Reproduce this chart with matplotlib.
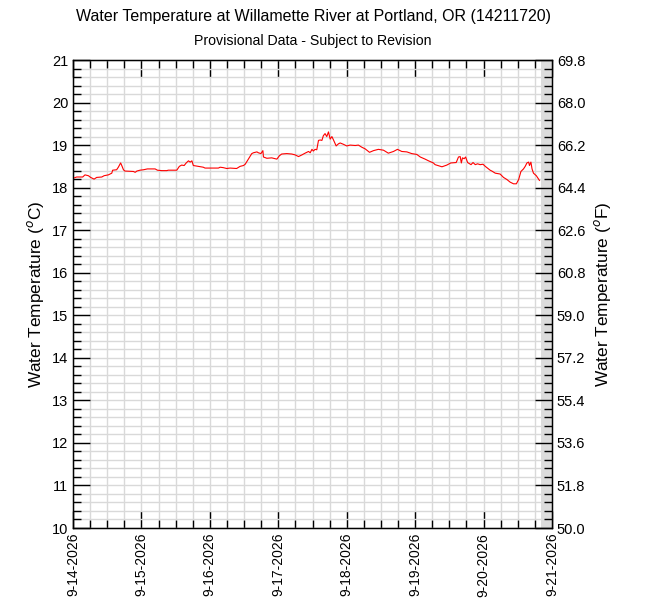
import datetime as dt
import numpy as np
import matplotlib
matplotlib.use("Agg")
import matplotlib.pyplot as plt
import matplotlib.dates as mdates
from matplotlib.ticker import MultipleLocator, FixedLocator, FormatStrFormatter

plt.rcParams['font.family'] = ['Liberation Sans', 'DejaVu Sans']

title = "Water Temperature at Willamette River at Portland, OR (14211720)"
subtitle = "Provisional Data - Subject to Revision"
start = dt.datetime(2026, 9, 14)
end = dt.datetime(2026, 9, 21)

# hours since 9-14-2026 00:00
hours = [0, 1.3, 3.4, 4.2, 5.4, 6.2, 7.4, 8.3, 10.1, 10.9, 12.4, 13.6, 13.9, 15.3,
         15.9, 16.7, 17.1, 17.7, 18.2, 21.2, 21.8, 22.4, 23.5, 24.7, 26.1, 28.8,
         29.6, 31.1, 32.9, 33.4, 36.4, 37.3, 38.1, 39.0, 39.7, 40.5, 41.1, 41.7,
         42.2, 44.0, 45.7, 46.3, 51.0, 51.6, 52.7, 53.9, 55.1, 57.4, 58.6, 59.8,
         60.4, 61.5, 62.7, 63.3, 64.5, 65.0, 65.9, 66.6, 66.8, 68.0, 69.7, 71.5,
         72.4, 73.2, 75.0, 76.7, 77.9, 79.1, 80.3, 81.4, 82.6, 83.2, 83.8, 84.3,
         84.9, 85.5, 86.1, 86.7, 87.3, 87.8, 88.4, 89.0, 89.6, 90.2, 90.8, 91.3,
         92.3, 93.1, 93.7, 94.8, 96.0, 97.2, 99.0, 100.1, 101.3, 102.5, 104.0,
         105.4, 107.1, 108.9, 110.6, 112.4, 113.8, 115.3, 117.1, 118.8, 120.6,
         121.8, 123.5, 124.7, 126.4, 127.0, 129.4, 131.1, 132.5, 134.4, 135.2,
         135.8, 136.2, 136.6, 137.2, 137.7, 138.4, 139.6, 140.3, 141.1, 141.9,
         142.8, 143.8, 144.6, 146.3, 146.9, 148.1, 149.8, 151.0, 152.2, 153.3,
         154.5, 155.5, 156.3, 157.1, 158.0, 158.6, 159.2, 159.8, 160.1, 160.6,
         161.0, 161.5, 162.5, 163.6]
temp_c = [18.22, 18.25, 18.25, 18.30, 18.28, 18.24, 18.20, 18.24, 18.25, 18.28,
          18.30, 18.34, 18.41, 18.42, 18.48, 18.58, 18.52, 18.42, 18.39, 18.38,
          18.36, 18.39, 18.41, 18.42, 18.44, 18.44, 18.41, 18.40, 18.40, 18.41,
          18.41, 18.50, 18.53, 18.52, 18.58, 18.63, 18.60, 18.63, 18.52, 18.50,
          18.48, 18.46, 18.46, 18.48, 18.47, 18.45, 18.46, 18.45, 18.50, 18.52,
          18.55, 18.67, 18.80, 18.82, 18.84, 18.82, 18.80, 18.87, 18.72, 18.69,
          18.70, 18.67, 18.75, 18.79, 18.80, 18.79, 18.77, 18.73, 18.77, 18.81,
          18.85, 18.82, 18.90, 18.86, 18.90, 18.89, 19.11, 19.12, 19.11, 19.22,
          19.27, 19.20, 19.31, 19.14, 19.20, 19.13, 18.98, 19.03, 19.05, 19.02,
          18.98, 19.00, 18.99, 19.00, 18.95, 18.91, 18.83, 18.87, 18.90, 18.88,
          18.81, 18.85, 18.90, 18.85, 18.84, 18.80, 18.78, 18.72, 18.67, 18.63,
          18.58, 18.54, 18.49, 18.53, 18.58, 18.59, 18.72, 18.73, 18.58, 18.70,
          18.68, 18.72, 18.59, 18.54, 18.59, 18.54, 18.56, 18.54, 18.55, 18.50,
          18.41, 18.39, 18.34, 18.32, 18.24, 18.19, 18.13, 18.09, 18.09, 18.19,
          18.38, 18.44, 18.50, 18.58, 18.60, 18.52, 18.60, 18.44, 18.34, 18.28,
          18.17]
# shaded block at the end (no data yet)
shade_from_hour = 164

times = [start + dt.timedelta(hours=h) for h in hours]

fig = plt.figure(figsize=(6.5, 6), dpi=100)
ax = fig.add_axes([73/650, 72/600, (552-73)/650, (528-60)/600])

ax.set_xlim(start, end)
ax.set_ylim(10, 21)

ax.xaxis.set_major_locator(mdates.DayLocator())
ax.xaxis.set_minor_locator(mdates.HourLocator(byhour=[0, 6, 12, 18]))
ax.xaxis.set_major_formatter(mdates.DateFormatter("%-m-%d-%Y"))
ax.yaxis.set_major_locator(MultipleLocator(1))
ax.yaxis.set_minor_locator(MultipleLocator(0.2))

ax.grid(True, which='both', color='#d9d9d9', linewidth=1.0)
ax.set_axisbelow(True)

ax.axvspan(start + dt.timedelta(hours=shade_from_hour), end, color='#dcdcdc',
           linewidth=0, zorder=1.5)
ax.plot(times, temp_c, color='red', linewidth=0.8, zorder=3)

ax.tick_params(which='both', direction='in', top=True, labelsize=10.5, width=1)
ax.tick_params(which='major', length=12)
ax.tick_params(which='minor', length=6)
ax.tick_params(axis='x', labelrotation=90, labelsize=10)
for s in ax.spines.values():
    s.set_linewidth(1)

ax.set_ylabel("Water Temperature ($^{o}$C)", fontsize=12.4, labelpad=4)

ax2 = ax.twinx()
ax2.set_ylim(50, 69.8)
ax2.yaxis.set_major_locator(FixedLocator(np.arange(50, 69.81, 1.8)))
ax2.yaxis.set_minor_locator(FixedLocator(np.arange(50, 69.81, 0.36)))
ax2.yaxis.set_major_formatter(FormatStrFormatter('%.1f'))
ax2.tick_params(which='both', direction='in', labelsize=10.5, width=1)
ax2.tick_params(which='major', length=12)
ax2.tick_params(which='minor', length=6)
ax2.set_ylabel("Water Temperature ($^{o}$F)", fontsize=12.4, labelpad=5)

fig.text(313/650, 1 - 17/600, title, ha='center', va='center', fontsize=11.5)
fig.text(313/650, 1 - 41/600, subtitle, ha='center', va='center', fontsize=10.2)

fig.savefig("out.png", dpi=100)
